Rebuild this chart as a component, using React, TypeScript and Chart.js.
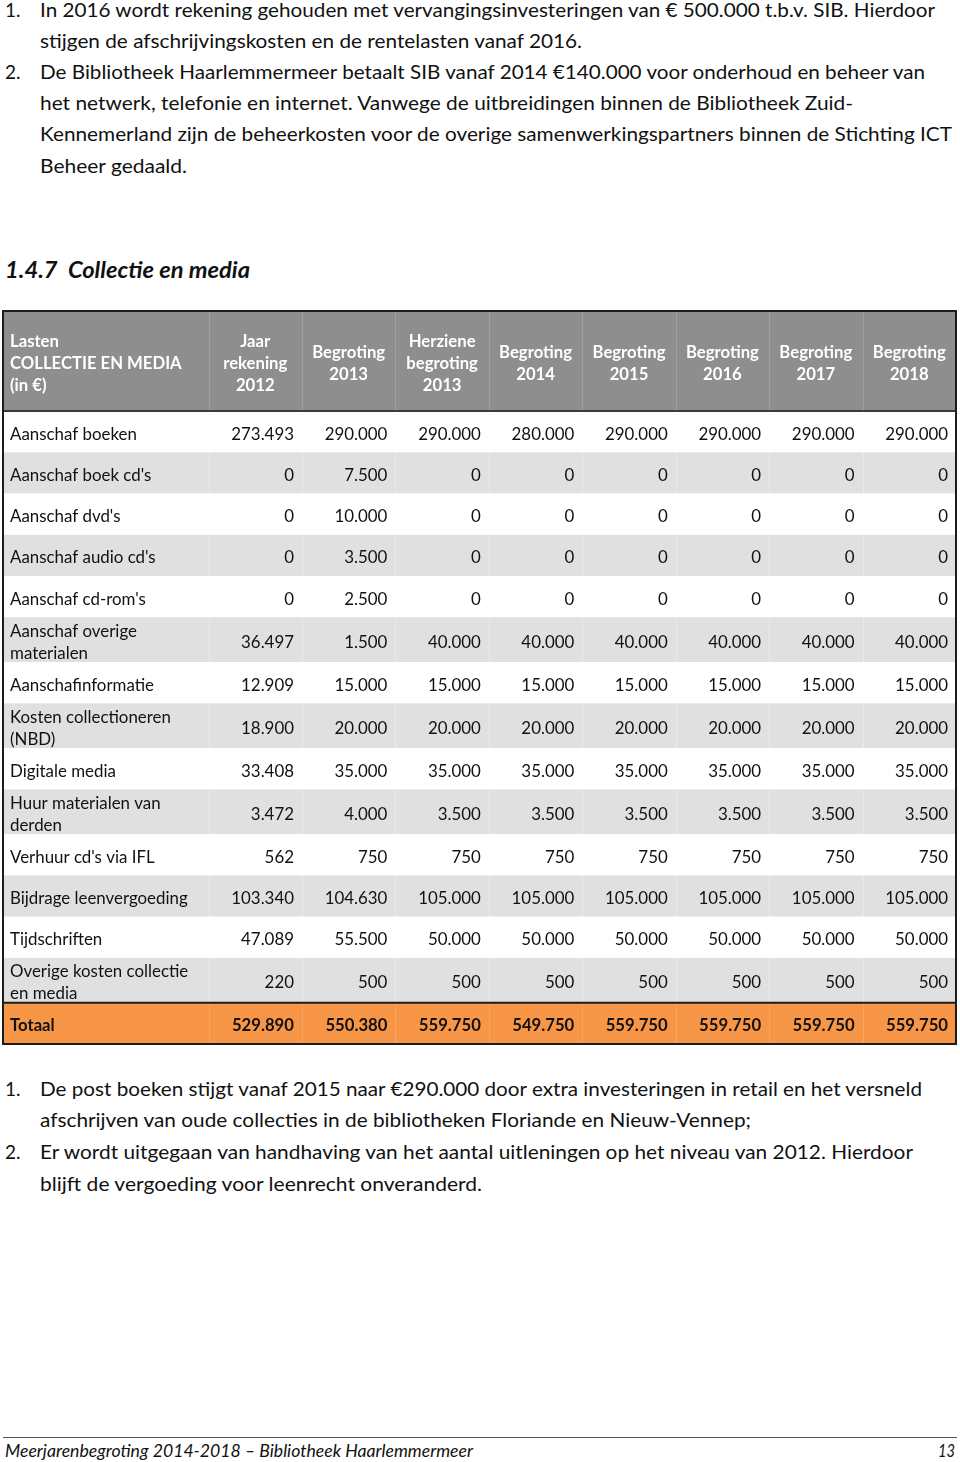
import React, { useEffect, useLayoutEffect, useRef } from "react";
import { Chart, registerables } from "chart.js";

Chart.register(...registerables);

// ---------- data ----------
const headerLabel = ["Lasten", "COLLECTIE EN MEDIA", "(in €)"];
const columnHeaders = [
  ["Jaar", "rekening", "2012"],
  ["Begroting", "2013"],
  ["Herziene", "begroting", "2013"],
  ["Begroting", "2014"],
  ["Begroting", "2015"],
  ["Begroting", "2016"],
  ["Begroting", "2017"],
  ["Begroting", "2018"],
];
const rowLabels = [
  "Aanschaf boeken",
  "Aanschaf boek cd's",
  "Aanschaf dvd's",
  "Aanschaf audio cd's",
  "Aanschaf cd-rom's",
  "Aanschaf overige materialen",
  "Aanschafinformatie",
  "Kosten collectioneren (NBD)",
  "Digitale media",
  "Huur materialen van derden",
  "Verhuur cd's via IFL",
  "Bijdrage leenvergoeding",
  "Tijdschriften",
  "Overige kosten collectie en media",
];
const totalLabel = "Totaal";
const jaarrekening2012 = [273493, 0, 0, 0, 0, 36497, 12909, 18900, 33408, 3472, 562, 103340, 47089, 220];
const begroting2013 = [290000, 7500, 10000, 3500, 2500, 1500, 15000, 20000, 35000, 4000, 750, 104630, 55500, 500];
const herzieneBegroting2013 = [290000, 0, 0, 0, 0, 40000, 15000, 20000, 35000, 3500, 750, 105000, 50000, 500];
const begroting2014 = [280000, 0, 0, 0, 0, 40000, 15000, 20000, 35000, 3500, 750, 105000, 50000, 500];
const begroting2015 = [290000, 0, 0, 0, 0, 40000, 15000, 20000, 35000, 3500, 750, 105000, 50000, 500];
const begroting2016 = [290000, 0, 0, 0, 0, 40000, 15000, 20000, 35000, 3500, 750, 105000, 50000, 500];
const begroting2017 = [290000, 0, 0, 0, 0, 40000, 15000, 20000, 35000, 3500, 750, 105000, 50000, 500];
const begroting2018 = [290000, 0, 0, 0, 0, 40000, 15000, 20000, 35000, 3500, 750, 105000, 50000, 500];
const totals = [529890, 550380, 559750, 549750, 559750, 559750, 559750, 559750];
const seriesList = [
  jaarrekening2012,
  begroting2013,
  herzieneBegroting2013,
  begroting2014,
  begroting2015,
  begroting2016,
  begroting2017,
  begroting2018,
];

// ---------- layout / style ----------
const FONT = "Lato";
const LABEL_UNITS = 2.2;
const TOTAL_UNITS = LABEL_UNITS + columnHeaders.length;
const HEADER_H = 100;
const SINGLE_H = 41.2;
const DOUBLE_H = 44.8;
const LINE_GAP = 22;
const TEXT_DY = 2.5;
const PAD_L = 7;
const PAD_R = 8;
const WRAP_W = 190;
const COL_HEADER_BG = "#8e8e8e";
const ROW_ALT_BG = "#e0e0e0";
const TOTAL_BG = "#f79646";
const BORDER = "#1c1c1c";
const TEXT = "#111111";

function fmt(n: number) {
  return String(n).replace(/\B(?=(\d{3})+(?!\d))/g, ".");
}

function calibrate(ctx: CanvasRenderingContext2D, weight: string, sample: string, target: number) {
  ctx.font = `${weight} 20px ${FONT}`;
  const w = ctx.measureText(sample).width;
  return (20 * target) / w;
}

function wrap(ctx: CanvasRenderingContext2D, text: string, maxW: number) {
  const words = text.split(" ");
  const lines: string[] = [];
  let cur = "";
  for (const w of words) {
    const t = cur ? cur + " " + w : w;
    if (cur && ctx.measureText(t).width > maxW) {
      lines.push(cur);
      cur = w;
    } else cur = t;
  }
  if (cur) lines.push(cur);
  return lines;
}

function FitText(props: {
  x: number;
  yc: number;
  w?: number;
  size: number;
  bold?: boolean;
  italic?: boolean;
  children: React.ReactNode;
}) {
  const ref = useRef<HTMLSpanElement>(null);
  useLayoutEffect(() => {
    const el = ref.current;
    if (!el || !props.w) return;
    el.style.transform = "none";
    const actual = el.getBoundingClientRect().width;
    if (actual > 0) el.style.transform = `scaleX(${props.w / actual})`;
  });
  const lh = props.size * 1.4;
  return (
    <span
      ref={ref}
      style={{
        position: "absolute",
        left: props.x,
        top: props.yc - lh / 2,
        lineHeight: `${lh}px`,
        fontSize: props.size,
        fontFamily: FONT,
        fontWeight: props.bold ? 700 : 400,
        fontStyle: props.italic ? "italic" : "normal",
        whiteSpace: "nowrap",
        transformOrigin: "left center",
        color: TEXT,
      }}
    >
      {props.children}
    </span>
  );
}

function TableChart() {
  const canvasRef = useRef<HTMLCanvasElement>(null);
  const chartRef = useRef<Chart | null>(null);

  const measureCtx = document.createElement("canvas").getContext("2d") as CanvasRenderingContext2D;
  const regSize = calibrate(measureCtx, "normal", "Aanschaf boeken", 127);
  const boldSize = calibrate(measureCtx, "bold", "Begroting", 73);
  measureCtx.font = `normal ${regSize}px ${FONT}`;
  const wrapped = rowLabels.map((l) => wrap(measureCtx, l, WRAP_W));
  const allLabels = [...wrapped, [totalLabel]];
  const heights = allLabels.map((ls) => (ls.length > 1 ? DOUBLE_H : SINGLE_H));
  const bounds: number[] = [HEADER_H];
  heights.forEach((h) => bounds.push(bounds[bounds.length - 1] + h));
  const tableH = bounds[bounds.length - 1];
  const centers = heights.map((h, i) => bounds[i] + h / 2);

  useEffect(() => {
    const canvas = canvasRef.current;
    if (!canvas) return;

    const tablePlugin = {
      id: "tablePlugin",
      afterDraw(chart: any) {
        const ctx: CanvasRenderingContext2D = chart.ctx;
        const xs = chart.scales.x;
        const ys = chart.scales.y;
        const px = (u: number) => xs.getPixelForValue(u);
        const py = (v: number) => ys.getPixelForValue(v);
        const L = px(0);
        const R = px(TOTAL_UNITS);
        ctx.save();
        // header
        ctx.fillStyle = COL_HEADER_BG;
        ctx.fillRect(L, py(0), R - L, py(HEADER_H) - py(0));
        // rows
        allLabels.forEach((_, i) => {
          const isTotal = i === allLabels.length - 1;
          ctx.fillStyle = isTotal ? TOTAL_BG : i % 2 === 1 ? ROW_ALT_BG : "#ffffff";
          ctx.fillRect(L, py(bounds[i]), R - L, py(bounds[i + 1]) - py(bounds[i]));
        });
        // vertical separators
        for (let c = 0; c < columnHeaders.length; c++) {
          const x = Math.round(px(LABEL_UNITS + c)) + 0.5;
          ctx.strokeStyle = "#a0a0a0";
          ctx.lineWidth = 1;
          ctx.beginPath();
          ctx.moveTo(x, py(0));
          ctx.lineTo(x, py(HEADER_H));
          ctx.stroke();
          allLabels.forEach((_, i) => {
            const isTotal = i === allLabels.length - 1;
            if (i % 2 === 0 && !isTotal) return;
            ctx.strokeStyle = isTotal ? "rgba(255,255,255,0.15)" : "rgba(255,255,255,0.35)";
            ctx.beginPath();
            ctx.moveTo(x, py(bounds[i]));
            ctx.lineTo(x, py(bounds[i + 1]));
            ctx.stroke();
          });
        }
        // horizontal rules
        ctx.strokeStyle = "#3a3a3a";
        ctx.lineWidth = 2;
        ctx.beginPath();
        ctx.moveTo(L, py(HEADER_H));
        ctx.lineTo(R, py(HEADER_H));
        ctx.stroke();
        ctx.strokeStyle = BORDER;
        ctx.beginPath();
        ctx.moveTo(L, py(bounds[bounds.length - 2]));
        ctx.lineTo(R, py(bounds[bounds.length - 2]));
        ctx.stroke();
        ctx.lineWidth = 2;
        ctx.strokeRect(L, py(0), R - L, py(tableH) - py(0));

        // header text
        ctx.fillStyle = "#ffffff";
        ctx.font = `bold ${boldSize}px ${FONT}`;
        ctx.textBaseline = "middle";
        ctx.textAlign = "left";
        headerLabel.forEach((t, k) => {
          const y = HEADER_H / 2 + (k - (headerLabel.length - 1) / 2) * LINE_GAP;
          ctx.fillText(t, L + PAD_L, py(y) + TEXT_DY);
        });
        ctx.textAlign = "center";
        columnHeaders.forEach((lines, c) => {
          const cx = px(LABEL_UNITS + c + 0.5);
          lines.forEach((t, k) => {
            const y = HEADER_H / 2 + (k - (lines.length - 1) / 2) * LINE_GAP;
            ctx.fillText(t, cx, py(y) + TEXT_DY);
          });
        });

        // row labels
        ctx.textAlign = "left";
        allLabels.forEach((lines, i) => {
          const isTotal = i === allLabels.length - 1;
          ctx.fillStyle = TEXT;
          ctx.font = isTotal ? `bold ${boldSize}px ${FONT}` : `normal ${regSize}px ${FONT}`;
          lines.forEach((t, k) => {
            const y = centers[i] + (k - (lines.length - 1) / 2) * LINE_GAP;
            ctx.fillText(t, L + PAD_L, py(y) + TEXT_DY);
          });
        });

        // values from dataset elements
        ctx.textAlign = "right";
        const half = (px(1) - px(0)) / 2;
        chart.data.datasets.forEach((ds: any, di: number) => {
          const meta = chart.getDatasetMeta(di);
          meta.data.forEach((el: any, j: number) => {
            const isTotal = j === allLabels.length - 1;
            ctx.font = isTotal ? `bold ${boldSize}px ${FONT}` : `normal ${regSize}px ${FONT}`;
            ctx.fillStyle = TEXT;
            ctx.fillText(fmt(ds.data[j].v), el.x + half - PAD_R, el.y + TEXT_DY);
          });
        });
        ctx.restore();
      },
    };

    const datasets = seriesList.map((vals, c) => ({
      label: columnHeaders[c].join(" "),
      data: [...vals, totals[c]].map((v, r) => ({ x: LABEL_UNITS + c + 0.5, y: centers[r], v })),
      pointRadius: 0,
      pointHoverRadius: 0,
    }));

    chartRef.current = new Chart(canvas, {
      type: "scatter",
      data: { datasets } as any,
      options: {
        animation: false,
        responsive: false,
        maintainAspectRatio: false,
        events: [],
        layout: { padding: { left: 2, top: 2, right: 3, bottom: 3 } },
        scales: {
          x: { type: "linear", min: 0, max: TOTAL_UNITS, display: false },
          y: { type: "linear", min: 0, max: tableH, reverse: true, display: false },
        },
        plugins: { legend: { display: false }, tooltip: { enabled: false } },
      },
      plugins: [tablePlugin],
    });
    return () => {
      chartRef.current?.destroy();
      chartRef.current = null;
    };
  }, []);

  return (
    <canvas
      ref={canvasRef}
      width={958}
      height={Math.ceil(tableH) + 5}
      style={{ position: "absolute", left: 1, top: 309, width: 958, height: Math.ceil(tableH) + 5 }}
    />
  );
}

export default function App() {
  const S = 19;
  return (
    <div style={{ position: "absolute", left: 0, top: 0, width: 960, height: 1462, background: "#fff", overflow: "hidden" }}>
      <FitText x={5} yc={10} size={S}>1.</FitText>
      <FitText x={40} yc={10} w={895} size={S}>
        In 2016 wordt rekening gehouden met vervangingsinvesteringen van € 500.000 t.b.v. SIB. Hierdoor
      </FitText>
      <FitText x={40} yc={41} w={542} size={S}>stijgen de afschrijvingskosten en de rentelasten vanaf 2016.</FitText>
      <FitText x={5} yc={72} size={S}>2.</FitText>
      <FitText x={40} yc={72} w={885} size={S}>
        De Bibliotheek Haarlemmermeer betaalt SIB vanaf 2014 €140.000 voor onderhoud en beheer van
      </FitText>
      <FitText x={40} yc={103} w={813} size={S}>
        het netwerk, telefonie en internet. Vanwege de uitbreidingen binnen de Bibliotheek Zuid-
      </FitText>
      <FitText x={40} yc={134} w={912} size={S}>
        Kennemerland zijn de beheerkosten voor de overige samenwerkingspartners binnen de Stichting ICT
      </FitText>
      <FitText x={40} yc={166} w={147} size={S}>Beheer gedaald.</FitText>

      <FitText x={5} yc={270} w={245} size={22} bold italic>1.4.7&nbsp; Collectie en media</FitText>

      <TableChart />

      <FitText x={5} yc={1089} size={S}>1.</FitText>
      <FitText x={40} yc={1089} w={882} size={S}>
        De post boeken stijgt vanaf 2015 naar €290.000 door extra investeringen in retail en het versneld
      </FitText>
      <FitText x={40} yc={1120} w={711} size={S}>
        afschrijven van oude collecties in de bibliotheken Floriande en Nieuw-Vennep;
      </FitText>
      <FitText x={5} yc={1152} size={S}>2.</FitText>
      <FitText x={40} yc={1152} w={873} size={S}>
        Er wordt uitgegaan van handhaving van het aantal uitleningen op het niveau van 2012. Hierdoor
      </FitText>
      <FitText x={40} yc={1184} w={442} size={S}>blijft de vergoeding voor leenrecht onveranderd.</FitText>

      <div style={{ position: "absolute", left: 3, top: 1437, width: 954, height: 1, background: "#555" }} />
      <FitText x={5} yc={1451} w={468} size={17} italic>
        Meerjarenbegroting 2014-2018 – Bibliotheek Haarlemmermeer
      </FitText>
      <FitText x={938} yc={1451} w={17} size={17} italic>13</FitText>
    </div>
  );
}
